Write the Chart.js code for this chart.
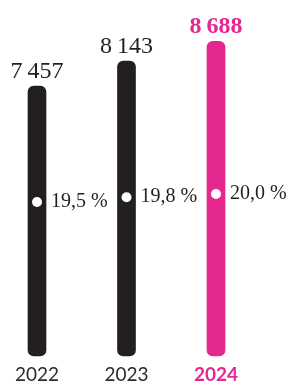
<!DOCTYPE html>
<html>
<head>
<meta charset="utf-8">
<script src="https://cdn.jsdelivr.net/npm/chart.js@4/dist/chart.umd.min.js"></script>
<style>
  html, body { margin: 0; padding: 0; background: #fff; }
  #wrap { width: 295px; height: 381px; }
</style>
</head>
<body>
<div id="wrap"><canvas id="myChart" width="295" height="381"></canvas></div>
<script>
// DATA
const years = ['2022', '2023', '2024'];
const totals = [7457, 8143, 8688];
const shares = [19.5, 19.8, 20.0];

// COLOURS
const dark = '#231f20';
const pink = '#e4288f';
const barColors = [dark, dark, pink];

function formatTotal(value) {
  return String(value).replace(/\B(?=(\d{3})+(?!\d))/g, '\u2009');
}

function formatShare(value) {
  return value.toFixed(1).replace('.', ',') + ' %';
}

// draws the totals above the bars and the shares next to the dots
const labelPlugin = {
  id: 'labels',
  afterDatasetsDraw(chart) {
    const ctx = chart.ctx;
    const bars = chart.getDatasetMeta(0).data;
    const dots = chart.getDatasetMeta(1).data;
    ctx.save();
    bars.forEach((bar, i) => {
      const last = i === bars.length - 1;
      ctx.font = (last ? 'bold ' : '') + '24px "Liberation Serif"';
      ctx.fillStyle = last ? pink : dark;
      ctx.textAlign = 'center';
      ctx.textBaseline = 'alphabetic';
      ctx.fillText(formatTotal(totals[i]), bar.x, bar.y - 8);
    });
    dots.forEach((dot, i) => {
      ctx.font = '20px "Liberation Serif"';
      ctx.fillStyle = dark;
      ctx.textAlign = 'left';
      ctx.textBaseline = 'middle';
      ctx.fillText(formatShare(shares[i]), dot.x + 14, dot.y);
    });
    ctx.restore();
  }
};

const chartLayout = document.getElementById('myChart');

const myChart = new Chart(chartLayout, {
  type: 'bar',
  data: {
    labels: years,
    datasets: [{
      label: 'Total',
      data: totals,
      backgroundColor: barColors,
      barThickness: 18,
      borderRadius: 6,
      borderSkipped: false,
      clip: false,
      order: 2
    },
    {
      type: 'line',
      label: 'Share',
      data: shares,
      yAxisID: 'y2',
      showLine: false,
      pointRadius: 5,
      pointHoverRadius: 5,
      pointBackgroundColor: '#ffffff',
      pointBorderWidth: 0,
      clip: false,
      order: 1
    }]
  },
  options: {
    responsive: false,
    animation: false,
    events: [],
    layout: {
      padding: { top: 41, left: 37, right: 79, bottom: 0 }
    },
    plugins: {
      legend: { display: false },
      tooltip: { enabled: false }
    },
    scales: {
      x: {
        offset: false,
        grid: { display: false, drawTicks: false },
        border: { display: false },
        afterFit: (scale) => { scale.height = 25; },
        ticks: {
          padding: 7,
          color: (c) => c.index === 2 ? pink : '#2b2b2b',
          font: (c) => ({ family: 'Lato', size: 19, weight: c.index === 2 ? 'bold' : 'normal' })
        }
      },
      y: {
        display: false,
        min: 0,
        max: 8700
      },
      y2: {
        display: false,
        min: 9.875,
        max: 29.5625
      }
    }
  },
  plugins: [labelPlugin]
});
</script>
</body>
</html>
